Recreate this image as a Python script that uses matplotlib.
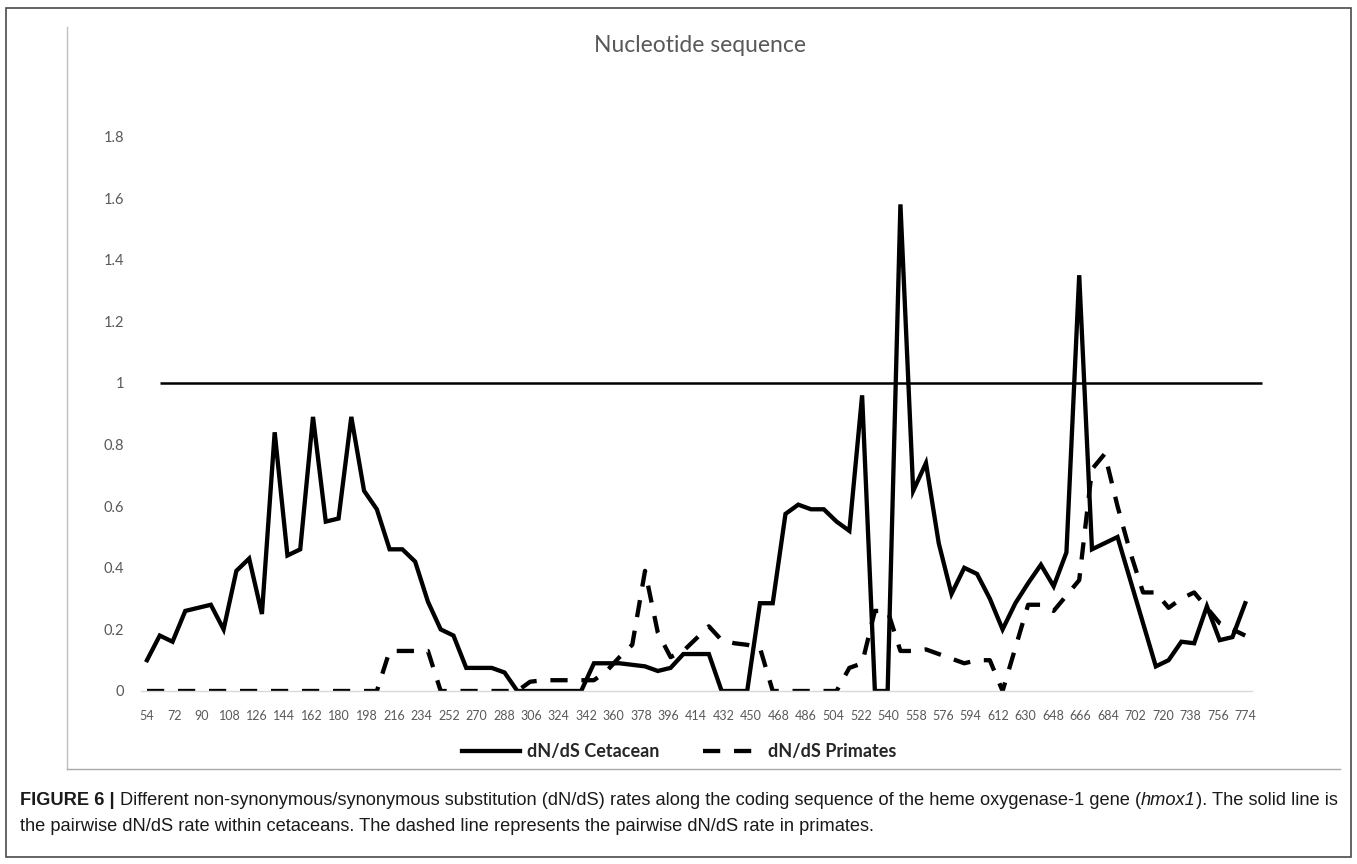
import numpy as np
import matplotlib
matplotlib.use("Agg")
import matplotlib.pyplot as plt
from matplotlib.patches import Rectangle
from matplotlib.lines import Line2D

# dN/dS along the hmox1 coding sequence
tick_labels = [str(v) for v in range(54, 775, 18)]

cetacean = [0.10, 0.18, 0.16, 0.26, 0.27, 0.28, 0.20, 0.39, 0.43, 0.25,
            0.84, 0.44, 0.46, 0.89, 0.55, 0.56, 0.89, 0.65, 0.59, 0.46,
            0.46, 0.42, 0.29, 0.20, 0.18, 0.075, 0.075, 0.075, 0.06, 0.0,
            0.0, 0.0, 0.0, 0.0, 0.0, 0.09, 0.09, 0.09, 0.085, 0.08,
            0.065, 0.075, 0.12, 0.12, 0.12, 0.0, 0.0, 0.0, 0.285, 0.285,
            0.575, 0.605, 0.59, 0.59, 0.55, 0.52, 0.96, 0.0, 0.0, 1.58,
            0.65, 0.74, 0.48, 0.315, 0.40, 0.38, 0.30, 0.20, 0.285, 0.35,
            0.41, 0.34, 0.45, 1.35, 0.46, 0.48, 0.50, 0.36, 0.22, 0.08,
            0.10, 0.16, 0.155, 0.275, 0.165, 0.175, 0.285]

primates = [0.0, 0.0, 0.0, 0.0, 0.0, 0.0, 0.0, 0.0, 0.0, 0.0,
            0.0, 0.0, 0.0, 0.0, 0.0, 0.0, 0.0, 0.0, 0.0, 0.13,
            0.13, 0.13, 0.13, 0.0, 0.0, 0.0, 0.0, 0.0, 0.0, 0.0,
            0.03, 0.035, 0.035, 0.035, 0.035, 0.035, 0.065, 0.11, 0.15, 0.39,
            0.19, 0.11, 0.13, 0.17, 0.21, 0.165, 0.155, 0.15, 0.14, 0.0,
            0.0, 0.0, 0.0, 0.0, 0.0, 0.075, 0.09, 0.26, 0.26, 0.13,
            0.13, 0.135, 0.12, 0.105, 0.09, 0.10, 0.10, 0.0, 0.14, 0.28,
            0.28, 0.26, 0.31, 0.36, 0.72, 0.77, 0.60, 0.45, 0.32, 0.32,
            0.27, 0.30, 0.32, 0.27, 0.22, 0.20, 0.18]

threshold = 1.0

W, H = 1357, 864
fig = plt.figure(figsize=(W / 100, H / 100), dpi=100)
chart_font = "Lato"
grey = "#595959"

ax = fig.add_axes([140.6 / W, (H - 691) / H, 1111 / W, 554.4 / H])
x = np.arange(len(cetacean))
ax.plot(x, cetacean, color="black", lw=3.1, solid_joinstyle="miter",
        label="dN/dS Cetacean")
ax.plot(x, primates, color="black", lw=3.1, dashes=(4.0, 3.2),
        label="dN/dS Primates")
ax.hlines(threshold, 1.0, 87.3, color="black", lw=1.8, clip_on=False)

ax.set_xlim(-0.5, len(cetacean) - 0.5)
ax.set_ylim(0, 1.8)
ax.set_xticks(np.linspace(0, len(cetacean) - 1, len(tick_labels)))
ax.set_xticklabels(tick_labels)
yt = np.round(np.arange(0, 1.81, 0.2), 1)
ax.set_yticks(yt)
ax.set_yticklabels(["%g" % v for v in yt])
for s in ["top", "right", "left"]:
    ax.spines[s].set_visible(False)
ax.spines["bottom"].set_color("#d9d9d9")
ax.spines["bottom"].set_linewidth(1.0)
ax.tick_params(axis="both", length=0, colors=grey)
ax.tick_params(axis="x", pad=14, labelsize=9)
ax.tick_params(axis="y", pad=12, labelsize=10.5)
for t in ax.get_xticklabels() + ax.get_yticklabels():
    t.set_fontname(chart_font)

fig.text(700 / W, 1 - 45 / H, "Nucleotide sequence", ha="center", va="center",
         fontsize=16.5, color=grey, fontname=chart_font)

handles, labels = ax.get_legend_handles_labels()
leg = fig.legend(handles, labels, loc="center", bbox_to_anchor=(679 / W, 1 - 752 / H),
                 ncol=2, frameon=False, handlelength=3.2, handletextpad=0.4,
                 columnspacing=2.4,
                 prop={"family": chart_font, "size": 13, "weight": "bold"})
for t in leg.get_texts():
    t.set_color("#262626")

# panel borders
fig.add_artist(Line2D([67 / W, 67 / W], [1 - 27 / H, 1 - 769 / H],
                      transform=fig.transFigure, color="#c0c0c0", lw=1.0))
fig.add_artist(Line2D([67 / W, 1340 / W], [1 - 769 / H, 1 - 769 / H],
                      transform=fig.transFigure, color="#a8a8a8", lw=1.0))
fig.add_artist(Rectangle((6 / W, 1 - 857 / H), 1345 / W, 849 / H,
                         transform=fig.transFigure, fill=False,
                         edgecolor="#4a4a4a", lw=1.2))

# caption, written run by run so bold/italic pieces sit inline
renderer = fig.canvas.get_renderer()
cap = dict(family="Liberation Sans", size=13.15, color="#1a1a1a", va="baseline")


def width(s, **kw):
    t = fig.text(0, 0, s, **kw)
    w = t.get_window_extent(renderer).width
    t.remove()
    return w


space = width("a a", **cap) - width("aa", **cap)


def runs(xpx, ypx, parts):
    for s, kw in parts:
        if s.startswith(" "):
            xpx += space
            s = s[1:]
        fig.text(xpx / W, 1 - ypx / H, s, **cap, **kw)
        xpx += width(s, **cap, **kw)


runs(20, 805, [("FIGURE 6 |", {"weight": "bold"}),
               (" Different non-synonymous/synonymous substitution (dN/dS) rates along "
                "the coding sequence of the heme oxygenase-1 gene (", {}),
               ("hmox1", {"style": "italic"}),
               ("). The solid line is", {})])
runs(20, 831, [("the pairwise dN/dS rate within cetaceans. The dashed line represents "
                "the pairwise dN/dS rate in primates.", {})])

fig.savefig("out.png", dpi=100)
